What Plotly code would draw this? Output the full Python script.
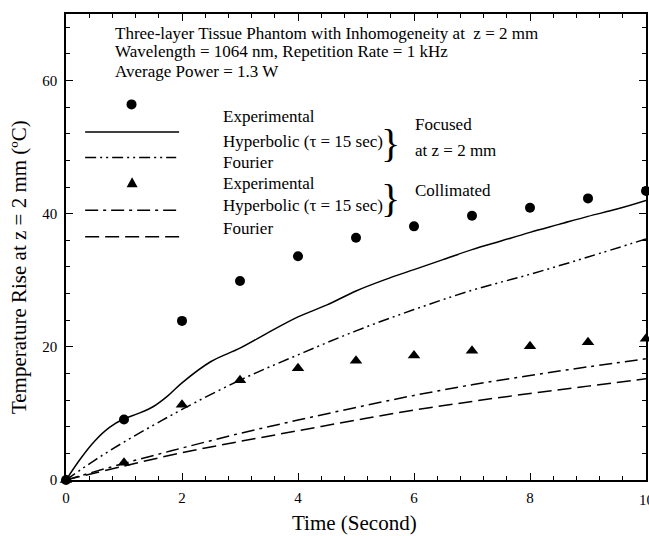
import plotly.graph_objects as go

# experimental points
t_exp = [0, 1, 2, 3, 4, 5, 6, 7, 8, 9, 10]
focused_exp = [0, 9.1, 23.9, 29.9, 33.6, 36.4, 38.1, 39.7, 40.9, 42.3, 43.4]
collim_exp = [0, 2.6, 11.3, 15.0, 16.8, 17.9, 18.7, 19.4, 20.1, 20.7, 21.2]

# model curves
t_hyp_f = [0, 0.25, 0.5, 0.75, 1, 1.25, 1.5, 1.75, 2, 2.5, 3, 3.5, 4, 4.5, 5,
           5.5, 6, 6.5, 7, 7.5, 8, 8.5, 9, 9.5, 10]
hyp_focused = [0, 3.2, 5.9, 7.9, 9.2, 10.0, 11.0, 12.6, 14.6, 17.8, 19.8, 22.2,
               24.5, 26.3, 28.4, 30.1, 31.6, 33.1, 34.6, 35.9, 37.2, 38.4,
               39.6, 40.7, 42.0]
t_four_f = [0, 0.5, 1, 1.5, 2, 3, 4, 5, 6, 7, 8, 9, 10]
four_focused = [0, 3.0, 5.7, 8.2, 10.6, 15.0, 18.8, 22.4, 25.6, 28.5, 30.9, 33.5, 36.2]
t_col = [0, 1, 2, 3, 4, 5, 6, 7, 8, 9, 10]
hyp_collim = [0, 2.5, 4.8, 7.0, 9.0, 10.9, 12.7, 14.3, 15.7, 17.0, 18.2]
four_collim = [0, 2.1, 4.1, 5.8, 7.4, 9.0, 10.5, 11.8, 13.0, 14.1, 15.2]

FONT = "Liberation Serif"
DDD = "11px,4px,2px,4px,2px,4px"
DD = "13px,5px,3px,5px"
DASH = "14px,6px"

fig = go.Figure()
fig.add_trace(go.Scatter(x=t_hyp_f, y=hyp_focused, mode="lines", line_shape="spline",
                         line=dict(color="black", width=1.5)))
fig.add_trace(go.Scatter(x=t_four_f, y=four_focused, mode="lines", line_shape="spline",
                         line=dict(color="black", width=1.5, dash=DDD)))
fig.add_trace(go.Scatter(x=t_col, y=hyp_collim, mode="lines", line_shape="spline",
                         line=dict(color="black", width=1.5, dash=DD)))
fig.add_trace(go.Scatter(x=t_col, y=four_collim, mode="lines", line_shape="spline",
                         line=dict(color="black", width=1.5, dash=DASH)))
fig.add_trace(go.Scatter(x=t_exp, y=focused_exp, mode="markers", cliponaxis=False,
                         marker=dict(symbol="circle", size=10, color="black")))
fig.add_trace(go.Scatter(x=t_exp, y=collim_exp, mode="markers", cliponaxis=False,
                         marker=dict(symbol="triangle-up", size=11, color="black")))

# hand-drawn legend keys (paper coords)
def key_line(y, x1, dash=None):
    fig.add_shape(type="line", xref="paper", yref="paper", x0=0.033, x1=x1, y0=y, y1=y,
                  line=dict(color="black", width=1.5, dash=dash))

fig.add_shape(type="circle", xref="paper", yref="paper", xsizemode="pixel", ysizemode="pixel",
              xanchor=0.113, yanchor=0.806, x0=-5, x1=5, y0=-5, y1=5,
              fillcolor="black", line=dict(color="black", width=0))
key_line(0.747, 0.195)
key_line(0.692, 0.19, DDD)
fig.add_shape(type="path", xref="paper", yref="paper", xsizemode="pixel", ysizemode="pixel",
              xanchor=0.114, yanchor=0.638, path="M -5.5 -4.5 L 5.5 -4.5 L 0 5.5 Z",
              fillcolor="black", line=dict(color="black", width=0))
key_line(0.579, 0.19, DD)
key_line(0.522, 0.195, DASH)

texts = [
    (0.268, 0.780, "Experimental"),
    (0.268, 0.726, "Hyperbolic (\u03c4 = 15 sec)"),
    (0.268, 0.681, "Fourier"),
    (0.268, 0.637, "Experimental"),
    (0.268, 0.588, "Hyperbolic (\u03c4 = 15 sec)"),
    (0.268, 0.540, "Fourier"),
    (0.598, 0.762, "Focused"),
    (0.598, 0.708, "at z = 2 mm"),
    (0.598, 0.622, "Collimated"),
    (0.081, 0.959, "Three-layer Tissue Phantom with Inhomogeneity at  z = 2 mm"),
    (0.081, 0.919, "Wavelength = 1064 nm, Repetition Rate = 1 kHz"),
    (0.081, 0.876, "Average Power = 1.3 W"),
]
for x, y, s in texts:
    fig.add_annotation(x=x, y=y, xref="paper", yref="paper", text=s, showarrow=False,
                       xanchor="left", yanchor="middle", font=dict(size=17, color="black", family=FONT))
for y in (0.722, 0.605):
    fig.add_annotation(x=0.559, y=y, xref="paper", yref="paper", text="}", showarrow=False,
                       xanchor="center", yanchor="middle", font=dict(size=40, color="black", family=FONT))

# axis titles placed by hand
fig.add_annotation(x=0.498, y=-0.092, xref="paper", yref="paper", text="Time (Second)",
                   xanchor="center", yanchor="middle",
                   showarrow=False, font=dict(size=21, family=FONT, color="black"))
fig.add_annotation(x=-0.081, y=0.457, xref="paper", yref="paper", textangle=-90,
                   text="Temperature Rise at z = 2 mm (\u00baC)", xanchor="center", yanchor="middle",
                   showarrow=False, font=dict(size=21, family=FONT, color="black"))
# last x tick label (cut off at the page edge, as in the original)
fig.add_annotation(x=10, y=-0.042, xref="x", yref="paper", text="10", showarrow=False,
                   xanchor="center", yanchor="middle",
                   font=dict(size=15, family=FONT, color="black"))

axis = dict(showline=True, linecolor="black", linewidth=1.5, mirror="ticks", ticks="inside",
            ticklen=7, tickwidth=1, tickcolor="black", showgrid=False, zeroline=False,
            tickfont=dict(size=15, family=FONT, color="black"))
fig.update_xaxes(range=[0, 10], tickvals=[0, 2, 4, 6, 8], ticklabelstandoff=3,
                 minor=dict(ticks="inside", ticklen=4, dtick=0.4, tickcolor="black"), **axis)
fig.update_yaxes(range=[0, 70], dtick=20, ticklabelstandoff=4,
                 minor=dict(ticks="inside", ticklen=4, dtick=4, tickcolor="black"), **axis)
fig.update_layout(width=649, height=536, margin=dict(l=66, r=3, t=14, b=56, autoexpand=False),
                  plot_bgcolor="white", paper_bgcolor="white", showlegend=False,
                  font=dict(family=FONT, color="black"))
fig.write_html("out.html", config={"displayModeBar": False},
               post_script="document.body.style.margin='0';")
